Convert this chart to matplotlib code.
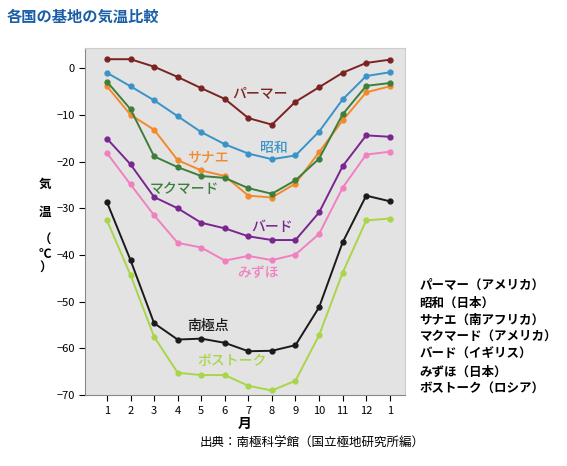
import matplotlib.pyplot as plt

plt.rcParams['font.family'] = ['Noto Sans CJK JP', 'DejaVu Sans']

months = list(range(1, 14))
month_labels = ['1', '2', '3', '4', '5', '6', '7', '8', '9', '10', '11', '12', '1']

palmer = [1.9, 1.9, 0.3, -1.9, -4.3, -6.6, -10.7, -12.1, -7.2, -4.1, -1.0, 1.1, 1.8]
showa = [-1.0, -3.9, -6.9, -10.3, -13.7, -16.3, -18.3, -19.5, -18.7, -13.6, -6.7, -1.7, -0.9]
sanae = [-3.9, -10.0, -13.2, -19.7, -21.9, -23.1, -27.3, -27.7, -24.7, -18.0, -11.2, -5.2, -3.9]
mcmurdo = [-2.9, -8.8, -18.9, -21.2, -23.1, -23.5, -25.7, -26.9, -24.0, -19.4, -9.9, -3.8, -3.2]
byrd = [-15.1, -20.6, -27.6, -30.0, -33.1, -34.3, -36.0, -36.8, -36.8, -30.9, -21.0, -14.4, -14.7]
mizuho = [-18.2, -24.9, -31.5, -37.4, -38.4, -41.2, -40.2, -41.1, -39.9, -35.5, -25.6, -18.5, -17.9]
south_pole = [-28.7, -41.1, -54.6, -58.1, -57.9, -58.8, -60.6, -60.5, -59.3, -51.2, -37.3, -27.3, -28.5]
vostok = [-32.6, -44.3, -57.5, -65.2, -65.7, -65.7, -68.0, -69.0, -66.9, -57.2, -43.8, -32.6, -32.2]

# (series, colour, label, label x, label y)
series = [
    (palmer, '#7b2222', 'パーマー', 7.5, -5.4),
    (showa, '#3a93c8', '昭和', 8.1, -17.0),
    (sanae, '#f28a2a', 'サナエ', 5.3, -19.0),
    (mcmurdo, '#3d7f3a', 'マクマード', 4.3, -25.8),
    (byrd, '#7a2590', 'バード', 8.0, -34.0),
    (mizuho, '#f27fbf', 'みずほ', 7.4, -43.8),
    (south_pole, '#1a1a1a', '南極点', 5.3, -55.2),
    (vostok, '#a8d648', 'ボストーク', 6.3, -62.7),
]

legend_lines = ['パーマー（アメリカ）', '昭和（日本）', 'サナエ（南アフリカ）', 'マクマード（アメリカ）',
                'バード（イギリス）', 'みずほ（日本）', 'ボストーク（ロシア）']

fig = plt.figure(figsize=(5.67, 4.66), dpi=100)
ax = fig.add_axes([0.15, 0.152, 0.564, 0.745])
ax.set_facecolor('#e3e3e3')

for vals, color, name, lx, ly in series:
    ax.plot(months, vals, color=color, lw=1.4, marker='o', ms=3.5)
    ax.text(lx, ly, name, color=color, fontsize=10, fontweight='medium', ha='center', va='center')

ax.set_xlim(0.07, 13.64)
ax.set_ylim(-70, 4.3)
ax.set_xticks(months)
ax.set_xticklabels(month_labels, fontsize=8)
ax.set_yticks(range(-70, 1, 10))
ax.tick_params(labelsize=8, length=4, direction='out')
for s in ax.spines.values():
    s.set_color('#888888')
ax.spines['top'].set_color('#cccccc')
ax.spines['right'].set_color('#cccccc')

ax.set_xlabel('月', fontsize=10, fontweight='bold', labelpad=1)
fig.text(0.08, 0.515, '気\n\n温\n\n（\n℃\n）', fontsize=9, fontweight='bold', ha='center', va='center',
         linespacing=1.1)

fig.text(0.012, 0.965, '各国の基地の気温比較', color='#1a5ea8', fontsize=11, fontweight='bold',
         ha='left', va='center')

y0 = 0.387
for i, t in enumerate(legend_lines):
    fig.text(0.74, y0 - i * 0.037, t, fontsize=9, fontweight='bold', ha='left', va='center')

fig.text(0.55, 0.048, '出典：南極科学館（国立極地研究所編）', fontsize=9, ha='center', va='center')

fig.savefig('out.png')
